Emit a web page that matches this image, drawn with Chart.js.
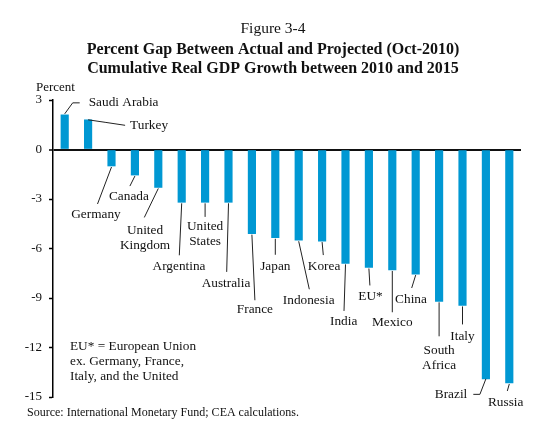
<!DOCTYPE html>
<html>
<head>
<meta charset="utf-8">
<script src="https://cdn.jsdelivr.net/npm/chart.js@4.4.0/dist/chart.umd.min.js"></script>
<style>
  html, body { margin: 0; padding: 0; background: #fff; }
</style>
</head>
<body>
<canvas id="myChart" width="550" height="423"></canvas>
<script>
const countries = [
  "Saudi Arabia", "Turkey", "Germany", "Canada", ["United", "Kingdom"],
  "Argentina", ["United", "States"], "Australia", "France", "Japan",
  "Indonesia", "Korea", "India", "EU*", "Mexico",
  "China", ["South", "Africa"], "Italy", "Brazil", "Russia",
];
const gapValues = [
  2.1, 1.8, -1.0, -1.55, -2.3,
  -3.2, -3.2, -3.2, -5.1, -5.35,
  -5.5, -5.55, -6.9, -7.15, -7.3,
  -7.55, -9.2, -9.45, -13.9, -14.15,
];
const yTicks = [3, 0, -3, -6, -9, -12, -15];

const titleLines = [
  "Percent Gap Between Actual and Projected (Oct-2010)",
  "Cumulative Real GDP Growth between 2010 and 2015",
];
const noteLines = [
  "EU* = European Union",
  "ex. Germany, France,",
  "Italy, and the United",
];
const sourceText = "Source: International Monetary Fund; CEA calculations.";

// leader line points and label spot, in px relative to the bar end
const labelLayout = [
  { line: [[0, -1], [8, -12], [15, -12]], text: [24, -12], align: "left" },
  { line: [[0, 0], [17, 2.5], [37, 5.5]], text: [42, 5.5], align: "left" },
  { line: [[0, 1], [-14, 38]], text: [-15.5, 49] },
  { line: [[0, 1], [-5, 11]], text: [-6, 21] },
  { line: [[0, 1], [-14, 30]], text: [-13.3, 42.7] },
  { line: [[0, 1], [-2.4, 53]], text: [-2.7, 64] },
  { line: [[0, 1], [0, 14.6]], text: [0, 24.6] },
  { line: [[0, 1], [-1.8, 69.6]], text: [-2.5, 81.2] },
  { line: [[0, 1], [3, 66.6]], text: [3, 76] },
  { line: [[0, 1], [0, 17]], text: [0, 29] },
  { line: [[0, 1], [10.6, 49]], text: [10, 60.5] },
  { line: [[0, 1], [1.2, 14]], text: [2, 25] },
  { line: [[0, 1], [-1.5, 47.6]], text: [-1.8, 58.6] },
  { line: [[0, 1], [1, 18]], text: [1.6, 29] },
  { line: [[0, 1], [0, 42.3]], text: [0, 53] },
  { line: [[0, 1], [-4, 13.9]], text: [-4.7, 25.5] },
  { line: [[0, 1], [0, 35]], text: [0, 49] },
  { line: [[0, 1], [0, 19]], text: [0, 30.6] },
  { line: [[0, 0], [-6, 15.5], [-12.6, 15.5]], text: [-18.6, 15.5], align: "right" },
  { line: [[0, 1], [-2, 8]], text: [-3.6, 19.7] },
];

const serif = "'Liberation Serif', 'Times New Roman', serif";

const leaderLabels = {
  id: "leaderLabels",
  afterDatasetsDraw(chart) {
    const ctx = chart.ctx;
    const bars = chart.getDatasetMeta(0).data;
    ctx.save();
    ctx.strokeStyle = "#222";
    ctx.lineWidth = 1;
    ctx.fillStyle = "#111";
    ctx.font = "13.3px " + serif;
    ctx.textBaseline = "middle";
    bars.forEach((bar, i) => {
      const lay = labelLayout[i];
      ctx.beginPath();
      lay.line.forEach(([dx, dy], k) => {
        if (k === 0) ctx.moveTo(bar.x + dx, bar.y + dy);
        else ctx.lineTo(bar.x + dx, bar.y + dy);
      });
      ctx.stroke();
      ctx.textAlign = lay.align || "center";
      [].concat(countries[i]).forEach((t, k) => {
        ctx.fillText(t, bar.x + lay.text[0], bar.y + lay.text[1] + k * 15);
      });
    });
    ctx.restore();
  },
};

const pageText = {
  id: "pageText",
  afterDraw(chart) {
    const ctx = chart.ctx;
    ctx.save();
    ctx.fillStyle = "#111";
    ctx.textBaseline = "alphabetic";
    ctx.textAlign = "center";
    ctx.font = "15.5px " + serif;
    ctx.fillText("Figure 3-4", 273, 33);
    ctx.font = "bold 16px " + serif;
    ctx.fillText(titleLines[0], 273, 54);
    ctx.fillText(titleLines[1], 273, 72.5);

    ctx.textAlign = "left";
    ctx.font = "13px " + serif;
    ctx.fillText("Percent", 36, 90.5);

    ctx.font = "13.3px " + serif;
    noteLines.forEach((t, k) => ctx.fillText(t, 70, 350 + k * 15.2));

    ctx.font = "12px " + serif;
    ctx.fillText(sourceText, 27, 416);
    ctx.restore();
  },
};

const config = {
  type: "bar",
  data: {
    labels: countries,
    datasets: [
      {
        label: "Gap",
        data: gapValues,
        backgroundColor: "#0098d3",
        borderWidth: 0,
        barThickness: 7.5,
      },
    ],
  },
  options: {
    responsive: false,
    animation: false,
    layout: { padding: { top: 100, right: 29, bottom: 26, left: 0 } },
    plugins: {
      legend: { display: false },
      tooltip: { enabled: false },
    },
    scales: {
      x: { display: false, offset: true },
      y: {
        min: -15,
        max: 3,
        afterFit(scale) {
          scale.width = 53;
        },
        afterBuildTicks(scale) {
          scale.ticks = yTicks.map((v) => ({ value: v }));
        },
        border: { display: true, color: "#000", width: 1.5 },
        grid: {
          color: (c) => (c.tick && c.tick.value === 0 ? "#111" : "rgba(0,0,0,0)"),
          lineWidth: (c) => (c.tick && c.tick.value === 0 ? 2 : 1),
          tickColor: "#000",
          tickLength: 4,
          tickWidth: 1.5,
        },
        ticks: {
          color: "#111",
          font: { family: serif, size: 13 },
          padding: 7,
        },
      },
    },
  },
  plugins: [leaderLabels, pageText],
};

const myChart = new Chart(document.getElementById("myChart"), config);
</script>
</body>
</html>
